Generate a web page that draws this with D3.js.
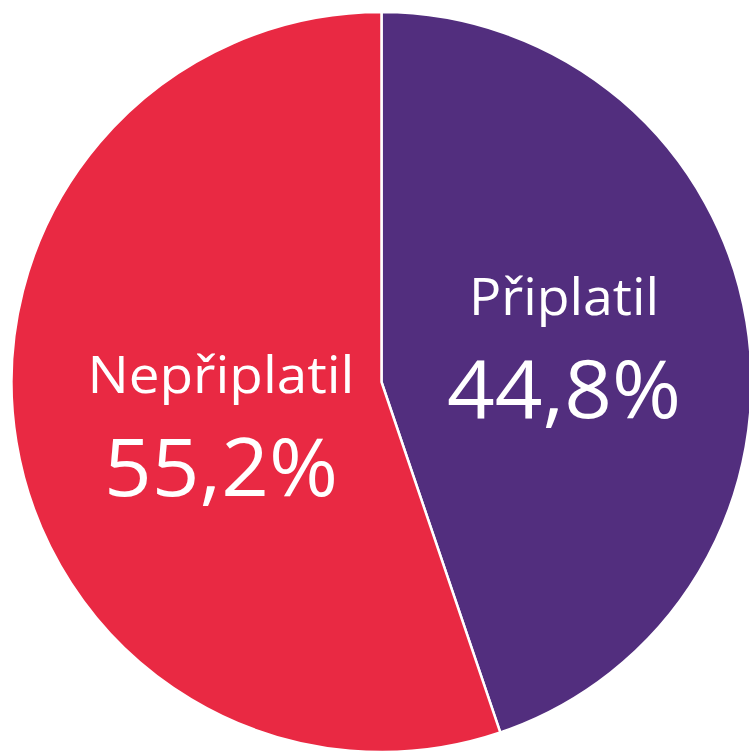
<!DOCTYPE html>
<html lang="cs">
<head>
<meta charset="UTF-8">
<title>Připlatil / Nepřiplatil</title>
<script src="https://d3js.org/d3.v7.min.js"></script>
<style>
    html, body { margin: 0; padding: 0; background: #fff; overflow: hidden; }
    svg { display: block; }
    text { font-family: "Open Sans", "Noto Sans", sans-serif; fill: #fff; }
</style>
</head>
<body>
<svg id="chart" width="749" height="751"></svg>
<script>
    // data
    var categories = ["Připlatil", "Nepřiplatil"];
    var values = [44.8, 55.2];
    var valueLabels = ["44,8%", "55,2%"];
    var colors = ["#522e7e", "#e92943"];

    // label nudges relative to the slice centroid (px)
    var nudges = [[0, -4], [22, 14]];

    var width = 749, height = 751;
    var cx = 381.5, cy = 382, radius = 370;

    var svg = d3.select("#chart");
    var g = svg.append("g").attr("transform", "translate(" + cx + "," + cy + ")");

    var pie = d3.pie().sort(null).value(function(d){ return d; });
    var arcs = pie(values);

    var arc = d3.arc().innerRadius(0).outerRadius(radius);
    var labelArc = d3.arc().innerRadius(radius * 0.5).outerRadius(radius * 0.5);

    g.selectAll("path.slice")
        .data(arcs)
        .enter().append("path")
        .attr("class", "slice")
        .attr("d", arc)
        .attr("fill", function(d, i){ return colors[i]; })
        .attr("stroke", "#fff")
        .attr("stroke-width", 2.5)
        .attr("stroke-linejoin", "miter");

    var labels = g.selectAll("g.label")
        .data(arcs)
        .enter().append("g")
        .attr("class", "label")
        .attr("transform", function(d, i){
            var c = labelArc.centroid(d);
            return "translate(" + (c[0] + nudges[i][0]) + "," + (c[1] + nudges[i][1]) + ")";
        });

    labels.append("text")
        .attr("text-anchor", "middle")
        .attr("y", -33)
        .attr("font-size", 52)
        .text(function(d, i){ return categories[i]; })
        .each(function(d, i){
            // Calibri-like narrow width
            var target = i === 0 ? 190 : 267;
            d3.select(this).attr("textLength", target).attr("lengthAdjust", "spacingAndGlyphs");
        });

    labels.append("text")
        .attr("text-anchor", "middle")
        .attr("y", 70)
        .attr("font-size", 80)
        .text(function(d, i){ return valueLabels[i]; })
        .attr("textLength", 234)
        .attr("lengthAdjust", "spacingAndGlyphs");
</script>
</body>
</html>
